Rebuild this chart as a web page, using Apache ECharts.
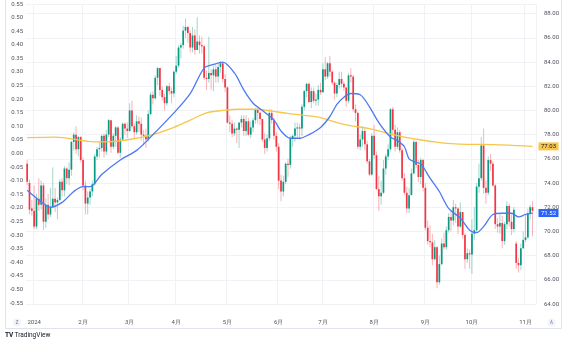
<!DOCTYPE html>
<html><head><meta charset="utf-8">
<script src="https://cdn.jsdelivr.net/npm/echarts@6/dist/echarts.min.js"></script>
<style>html,body{margin:0;padding:0;background:#fff}#c{width:571px;height:344px}</style>
</head><body><div id="c"></div>
<script>
// trading days per month
const tradingDays = {
  '2023-12':[27,28,29],
  '2024-01':[2,3,4,5,8,9,10,11,12,16,17,18,19,22,23,24,25,26,29,30,31],
  '2024-02':[1,2,5,6,7,8,9,12,13,14,15,16,20,21,22,23,26,27,28,29],
  '2024-03':[1,4,5,6,7,8,11,12,13,14,15,18,19,20,21,22,25,26,27,28],
  '2024-04':[1,2,3,4,5,8,9,10,11,12,15,16,17,18,19,22,23,24,25,26,29,30],
  '2024-05':[1,2,3,6,7,8,9,10,13,14,15,16,17,20,21,22,23,24,28,29,30,31],
  '2024-06':[3,4,5,6,7,10,11,12,13,14,17,18,20,21,24,25,26,27,28],
  '2024-07':[1,2,3,5,8,9,10,11,12,15,16,17,18,19,22,23,24,25,26,29,30,31],
  '2024-08':[1,2,5,6,7,8,9,12,13,14,15,16,19,20,21,22,23,26,27,28,29,30],
  '2024-09':[3,4,5,6,9,10,11,12,13,16,17,18,19,20,23,24,25,26,27,30],
  '2024-10':[1,2,3,4,7,8,9,10,11,14,15,16,17,18,21,22,23,24,25,28,29,30,31],
  '2024-11':[1,4,5,6]
};
const tickDates = ['2024-01-02','2024-02-01','2024-03-01','2024-04-01','2024-05-01','2024-06-03','2024-07-01','2024-08-01','2024-09-03','2024-10-01','2024-11-01'];
const tickLabels = ['2024','2月','3月','4月','5月','6月','7月','8月','9月','10月','11月'];

const open = [75.6,74.0,71.9,
71.7,70.4,72.7,72.2,73.8,70.8,72.2,71.4,72.0,72.7,72.4,72.6,74.1,73.4,75.2,74.4,75.1,77.4,78.0,76.8,77.8,
75.9,73.8,72.3,72.8,73.3,73.9,76.2,76.8,76.9,77.9,76.6,78.0,79.2,77.0,77.9,78.6,76.5,77.6,78.9,78.5,
78.3,80.0,78.7,78.2,79.1,78.9,78.0,77.9,77.6,79.7,81.3,81.0,82.7,83.5,81.7,81.1,80.6,82.0,81.6,81.4,
83.2,83.7,85.2,85.4,86.6,86.9,86.4,85.2,86.2,85.0,85.7,85.4,85.3,82.7,82.6,83.1,82.9,83.4,82.8,83.6,83.9,82.6,
81.9,79.0,78.9,78.1,78.5,78.4,79.0,79.3,78.3,79.1,78.0,78.6,79.2,80.1,79.8,79.3,77.6,76.9,77.7,79.8,79.2,77.9,
77.0,74.2,73.3,74.1,75.6,75.5,77.7,77.9,78.5,78.6,78.5,80.3,81.6,82.2,80.7,81.6,80.8,80.9,81.7,
81.5,83.4,82.8,83.9,83.2,82.3,81.4,82.1,82.6,82.2,81.9,80.8,82.9,82.8,80.1,79.8,77.0,77.6,78.3,77.2,75.8,74.7,
77.9,76.3,73.5,72.9,73.2,75.2,76.2,76.8,80.1,78.4,77.0,78.2,76.7,74.4,73.2,71.9,73.0,74.8,77.4,75.5,74.5,75.9,
73.6,70.3,69.2,69.1,67.7,68.7,65.8,67.3,69.0,68.7,70.1,71.2,70.9,72.0,71.9,70.4,71.6,69.7,67.7,68.2,
68.1,69.8,70.1,73.7,74.4,77.1,73.6,73.2,75.9,75.6,73.8,70.6,70.4,70.7,69.2,70.6,72.1,70.8,70.2,69.0,67.4,67.2,68.6,
69.3,69.5,71.5,72.0];
const high = [75.9,74.3,72.6,
73.8,73.1,74.4,74.2,74.0,72.7,73.1,73.6,75.3,73.6,72.8,74.3,74.4,75.4,75.3,75.7,77.5,78.2,78.7,77.9,77.9,
76.1,74.2,73.3,73.5,74.2,76.4,77.0,77.4,78.0,78.1,78.4,79.3,79.2,78.1,78.7,78.7,77.8,79.0,79.0,79.0,
80.6,80.8,78.9,79.6,79.5,79.4,78.4,78.5,80.0,81.5,81.6,82.9,83.6,83.5,82.0,81.4,82.1,82.3,81.9,83.3,
84.5,85.4,85.6,87.0,87.6,87.0,86.6,86.9,86.7,87.7,86.2,86.1,85.4,83.3,86.1,83.4,83.7,83.8,84.0,84.1,84.0,83.0,
82.0,79.6,79.2,79.0,78.6,79.0,79.6,79.6,79.6,79.4,79.1,79.4,80.2,80.3,79.9,79.3,78.1,78.0,80.1,80.1,79.4,78.2,
77.3,74.7,74.6,75.7,76.0,77.9,78.0,79.0,79.0,78.9,80.5,81.7,82.3,82.3,81.9,81.9,81.4,82.1,82.3,
83.9,84.4,84.0,84.5,83.3,82.4,82.3,83.2,83.2,82.4,81.9,83.1,83.5,82.9,80.5,79.9,78.0,78.7,78.5,77.5,76.0,78.1,
78.8,76.6,74.6,74.2,75.9,76.4,77.2,80.2,80.3,78.8,78.6,78.4,76.9,74.8,73.7,73.6,75.2,77.6,77.5,75.9,76.1,76.0,
74.0,70.9,70.5,69.8,69.3,68.8,68.0,69.4,69.9,70.4,71.5,71.7,72.6,72.3,72.0,72.4,71.6,69.9,68.6,68.5,
71.0,72.0,74.0,75.6,77.8,78.5,74.2,76.2,76.4,75.8,73.9,71.1,71.4,71.3,70.8,72.5,72.3,71.4,72.0,69.2,67.8,69.0,70.0,
71.4,71.9,72.2,72.5];
const low = [73.8,71.4,71.3,
70.2,70.2,71.7,71.8,70.1,70.3,71.0,71.2,72.0,71.6,71.0,72.5,72.9,72.9,73.9,73.8,74.6,76.7,76.4,76.2,75.7,
73.4,71.4,71.4,72.2,72.9,73.8,75.9,76.1,76.6,76.1,76.3,77.8,76.5,76.8,77.0,76.4,76.1,77.5,78.0,77.7,
78.2,78.5,77.6,78.0,78.2,77.5,77.1,76.9,77.4,79.6,80.5,80.9,82.1,81.2,80.8,80.0,80.4,81.3,80.6,81.1,
83.0,83.5,84.3,85.1,86.0,85.6,84.8,84.8,84.6,85.0,84.7,84.7,82.5,81.7,82.3,81.7,81.6,82.3,82.3,83.1,82.3,81.5,
78.9,78.2,77.8,77.9,77.3,76.9,78.6,77.9,77.9,77.9,77.7,78.2,78.9,78.9,78.8,77.4,76.4,76.6,77.5,78.9,77.6,76.6,
73.5,72.5,72.9,73.9,74.5,75.2,77.0,77.4,77.8,77.6,77.9,80.0,81.1,80.6,80.2,80.6,80.4,80.4,81.3,
81.5,82.5,82.6,82.8,82.1,80.9,81.1,81.8,81.9,81.6,80.3,80.6,82.3,79.9,79.1,76.8,76.7,77.0,76.7,75.6,74.6,74.6,
76.0,73.4,71.7,72.2,73.1,74.7,75.9,76.6,77.9,76.6,76.8,76.5,74.2,73.0,71.5,71.5,73.0,74.7,75.2,74.1,73.9,73.3,
70.1,68.9,68.7,67.2,67.6,65.3,65.6,67.2,68.5,68.5,69.9,70.0,70.5,70.7,69.8,70.3,69.4,66.9,67.4,66.9,
66.5,69.3,69.9,73.2,74.2,73.1,72.3,73.0,75.0,73.7,70.2,69.9,69.8,68.6,68.9,70.2,70.4,69.7,69.9,66.9,66.6,66.8,68.6,
69.1,69.4,71.0,69.6];
const close = [74.1,71.8,71.7,
70.4,72.7,72.2,73.8,70.8,72.2,71.4,72.0,72.7,72.4,72.6,74.1,73.4,75.2,74.4,75.1,77.4,78.0,76.8,77.8,75.9,
73.8,72.3,72.8,73.3,73.9,76.2,76.8,76.9,77.9,76.6,78.0,79.2,77.0,77.9,78.6,76.5,77.6,78.9,78.5,78.3,
80.0,78.7,78.2,79.1,78.9,78.0,77.9,77.6,79.7,81.3,81.0,82.7,83.5,81.7,81.1,80.6,82.0,81.6,81.4,83.2,
83.7,85.2,85.4,86.6,86.9,86.4,85.2,86.2,85.0,85.7,85.4,85.3,82.7,82.6,83.1,82.9,83.4,82.8,83.6,83.9,82.6,81.9,
79.0,78.9,78.1,78.5,78.4,79.0,79.3,78.3,79.1,78.0,78.6,79.2,80.1,79.8,79.3,77.6,76.9,77.7,79.8,79.2,77.9,77.0,
74.2,73.3,74.1,75.6,75.5,77.7,77.9,78.5,78.6,78.5,80.3,81.6,82.2,80.7,81.6,80.8,80.9,81.7,81.5,
83.4,82.8,83.9,83.2,82.3,81.4,82.1,82.6,82.2,81.9,80.8,82.9,82.8,80.1,79.8,77.0,77.6,78.3,77.2,75.8,74.7,77.9,
76.3,73.5,72.9,73.2,75.2,76.2,76.8,80.1,78.4,77.0,78.2,76.7,74.4,73.2,71.9,73.0,74.8,77.4,75.5,74.5,75.9,73.6,
70.3,69.2,69.1,67.7,68.7,65.8,67.3,69.0,68.7,70.1,71.2,70.9,72.0,71.9,70.4,71.6,69.7,67.7,68.2,68.1,
69.8,70.1,73.7,74.4,77.1,73.6,73.2,75.9,75.6,73.8,70.6,70.4,70.7,69.2,70.6,72.1,70.8,70.2,71.8,67.4,67.2,68.6,69.3,
69.5,71.5,72.0,71.7];

// moving averages (date, value)
const ma20Pts = [['2023-12-27',73.4],['2024-01-04',72.6],['2024-01-11',72.0],['2024-01-19',72.4],['2024-01-26',73.3],
['2024-02-01',73.7],['2024-02-06',73.7],['2024-02-13',74.7],['2024-02-26',75.9],['2024-03-06',76.7],['2024-03-14',77.8],
['2024-03-28',79.8],['2024-04-09',81.4],['2024-04-17',83.5],['2024-04-23',83.8],['2024-04-29',84.0],['2024-05-06',83.1],
['2024-05-10',81.7],['2024-05-16',80.6],['2024-05-22',80.0],['2024-05-30',79.2],['2024-06-04',78.3],['2024-06-10',77.7],
['2024-06-14',77.7],['2024-06-21',78.0],['2024-06-28',78.6],['2024-07-05',79.5],['2024-07-10',80.5],['2024-07-15',81.1],
['2024-07-18',81.4],['2024-07-24',81.3],['2024-07-30',80.3],['2024-08-05',79.0],['2024-08-12',77.8],['2024-08-15',77.5],
['2024-08-20',77.0],['2024-08-22',76.0],['2024-08-27',75.7],['2024-08-29',75.6],['2024-09-05',74.4],['2024-09-11',73.3],
['2024-09-17',71.9],['2024-09-24',71.1],['2024-09-30',70.1],['2024-10-03',69.9],['2024-10-08',70.4],['2024-10-14',71.4],
['2024-10-18',71.5],['2024-10-24',71.5],['2024-10-29',71.2],['2024-11-01',71.4],['2024-11-06',71.52]];
const ma200Pts = [['2023-12-27',77.75],['2024-01-16',77.8],['2024-02-05',77.45],['2024-02-15',77.4],['2024-03-01',77.6],
['2024-03-15',78.0],['2024-03-28',78.6],['2024-04-09',79.2],['2024-04-18',79.8],['2024-04-29',80.0],['2024-05-08',80.1],
['2024-05-17',80.1],['2024-05-29',79.95],['2024-06-07',79.75],['2024-06-18',79.6],['2024-06-28',79.4],['2024-07-10',79.0],
['2024-07-19',78.7],['2024-07-30',78.5],['2024-08-09',78.1],['2024-08-20',77.8],['2024-08-28',77.6],['2024-09-09',77.4],
['2024-09-18',77.25],['2024-09-27',77.2],['2024-10-08',77.2],['2024-10-17',77.15],['2024-10-28',77.1],['2024-11-06',77.03]];

const priceTicks = {min:64, max:88.8, step:2};
const leftTicks = {min:-0.55, max:0.55, step:0.05};

const dates = [];
Object.keys(tradingDays).forEach(m => tradingDays[m].forEach(d => dates.push(m + '-' + String(d).padStart(2,'0'))));
const categories = dates.concat(['']);

const UP = '#089981', DN = '#f23645', UPW = 'rgba(8,153,129,0.38)', DNW = 'rgba(242,54,69,0.38)';
const FONT = 'Roboto, "Liberation Sans", sans-serif';
const AXC = '#50535e';
const GRIDC = '#f0f2f6';

const candleData = dates.map((d, i) => [i, open[i], close[i], low[i], high[i]]);
const tickSet = new Set(tickDates);

function priceLabel(series, color, textColor) {
  const last = series[series.length - 1];
  return {
    symbol: 'rect', symbolSize: [20, 8], symbolOffset: [16, 0], silent: true,
    itemStyle: {color: color},
    label: {show: true, position: 'inside', color: textColor, fontSize: 6, fontFamily: FONT,
      formatter: p => Number(p.value).toFixed(2)},
    data: [{coord: [last[0], last[1]], value: last[1]}]
  };
}

const chart = echarts.init(document.getElementById('c'), null, {renderer: 'canvas'});
chart.setOption({
  animation: false,
  backgroundColor: '#ffffff',
  grid: [
    {left: 26, right: 35, top: 4, bottom: 40},
    {left: 26, right: 35, top: 4, bottom: 41}
  ],
  xAxis: [
    {type: 'category', gridIndex: 0, data: categories, boundaryGap: true,
     axisLine: {show: false}, axisTick: {show: false},
     axisLabel: {interval: (idx, val) => tickSet.has(val), formatter: (val) => tickLabels[tickDates.indexOf(val)] || '',
       fontSize: 6, color: AXC, fontFamily: FONT, margin: 15},
     splitLine: {show: true, interval: (idx, val) => tickSet.has(val), lineStyle: {color: GRIDC, width: 1}}},
    {type: 'value', gridIndex: 1, min: 0, max: 1, show: false}
  ],
  yAxis: [
    {type: 'value', gridIndex: 0, position: 'right', min: priceTicks.min, max: priceTicks.max, interval: priceTicks.step,
     axisLine: {show: false}, axisTick: {show: false},
     axisLabel: {showMaxLabel: false, formatter: v => v.toFixed(2), fontSize: 6, color: AXC, fontFamily: FONT, margin: 8},
     splitLine: {show: true, lineStyle: {color: GRIDC, width: 1}}},
    {type: 'value', gridIndex: 1, position: 'left', min: leftTicks.min, max: leftTicks.max, interval: leftTicks.step,
     axisLine: {show: false}, axisTick: {show: false}, splitLine: {show: false},
     axisLabel: {formatter: v => (Math.abs(v) < 1e-9 ? 0 : v).toFixed(2), fontSize: 6, color: AXC, fontFamily: FONT, margin: 3}}
  ],
  series: [
    {type: 'custom', xAxisIndex: 0, yAxisIndex: 0, data: candleData, encode: {x: 0, y: [1, 2, 3, 4]}, z: 2,
     renderItem: function (params, api) {
       const i = api.value(0), o = api.value(1), c = api.value(2), l = api.value(3), h = api.value(4);
       const pO = api.coord([i, o]), pC = api.coord([i, c]), pL = api.coord([i, l]), pH = api.coord([i, h]);
       const x = pO[0];
       const up = c >= o;
       const bw = 1.7;
       const top = Math.min(pO[1], pC[1]);
       const hh = Math.max(Math.abs(pO[1] - pC[1]), 0.8);
       return {type: 'group', children: [
         {type: 'line', shape: {x1: x, y1: pH[1], x2: x, y2: pL[1]}, style: {stroke: up ? UPW : DNW, lineWidth: 1}},
         {type: 'rect', shape: {x: x - bw / 2, y: top, width: bw, height: hh}, style: {fill: up ? UP : DN}}
       ]};
     }},
    {type: 'line', xAxisIndex: 0, yAxisIndex: 0, data: ma200Pts, smooth: 0.3, symbol: 'none', z: 3,
     lineStyle: {color: '#f7c64b', width: 1.3}, markPoint: priceLabel(ma200Pts, '#f7c64b', '#131722')},
    {type: 'line', xAxisIndex: 0, yAxisIndex: 0, data: ma20Pts, smooth: 0.3, symbol: 'none', z: 4,
     lineStyle: {color: '#4d79f2', width: 1.3}, markPoint: priceLabel(ma20Pts, '#2962ff', '#ffffff')}
  ],
  graphic: [
    {type: 'line', shape: {x1: 5.5, y1: 0, x2: 5.5, y2: 328.5}, style: {stroke: '#e0e3eb', lineWidth: 1}, silent: true},
    {type: 'line', shape: {x1: 561.5, y1: 0, x2: 561.5, y2: 328.5}, style: {stroke: '#e0e3eb', lineWidth: 1}, silent: true},
    {type: 'line', shape: {x1: 5.5, y1: 328.5, x2: 561.5, y2: 328.5}, style: {stroke: '#e0e3eb', lineWidth: 1}, silent: true},
    {type: 'circle', shape: {cx: 17, cy: 322.5, r: 4}, style: {fill: '#f0f3fa'}, silent: true},
    {type: 'text', x: 17, y: 322.5, style: {text: 'Z', fontSize: 4.5, fill: '#787b86', align: 'center', verticalAlign: 'middle', fontFamily: FONT}, silent: true},
    {type: 'circle', shape: {cx: 551.5, cy: 322.5, r: 4}, style: {fill: '#f0f3fa'}, silent: true},
    {type: 'text', x: 551.5, y: 322.5, style: {text: 'A', fontSize: 4.5, fill: '#787b86', align: 'center', verticalAlign: 'middle', fontFamily: FONT}, silent: true},
    {type: 'text', x: 5, y: 335, style: {text: 'TV', fontSize: 6.5, fontWeight: 'bold', fill: '#131722', verticalAlign: 'middle', fontFamily: FONT}, silent: true},
    {type: 'text', x: 14.5, y: 335, style: {text: 'TradingView', fontSize: 6.5, fill: '#131722', verticalAlign: 'middle', fontFamily: FONT}, silent: true}
  ]
});
</script>
</body></html>
